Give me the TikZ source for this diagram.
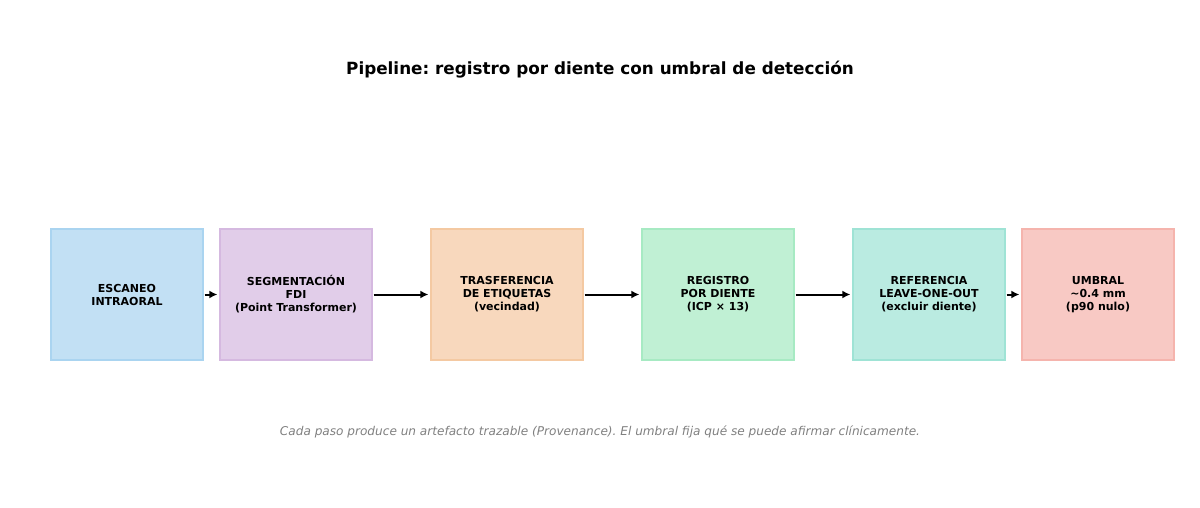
\documentclass[tikz,border=0pt]{standalone}
\usepackage{fontspec}
\setmainfont{DejaVu Sans}
\usepackage{tikz}
\usetikzlibrary{positioning,arrows.meta}
\definecolor{cblue}{HTML}{3498DB}
\definecolor{cpurple}{HTML}{9B59B6}
\definecolor{corange}{HTML}{E67E22}
\definecolor{cgreen}{HTML}{2ECC71}
\definecolor{cteal}{HTML}{1ABC9C}
\definecolor{cred}{HTML}{E74C3C}
\frenchspacing
\tikzset{
  stage/.style={draw=#1!42, fill=#1!30, line width=1.3pt, minimum width=152pt,
    minimum height=131pt, align=center, font=\fontsize{11}{13}\selectfont\bfseries},
  flow/.style={-{Latex[length=8pt,width=8pt]}, line width=2pt, shorten <=1pt, shorten >=2pt}
}

\begin{document}
\begin{tikzpicture}[x=1pt, y=-1pt]
  \useasboundingbox (0,0) rectangle (1200,508);
  \node[font=\fontsize{16.8}{20}\selectfont\bfseries] (title) at (600,69.5) {Pipeline: registro por diente con umbral de detección};
  \node[stage=cblue] (Scan) at (127,294.5) {ESCANEO\\INTRAORAL};
  \node[on grid, right=169pt of Scan, stage=cpurple] (Seg) {SEGMENTACIÓN\\FDI\\(Point Transformer)};
  \node[on grid, right=211pt of Seg, stage=corange] (Trans) {TRASFERENCIA\\DE ETIQUETAS\\(vecindad)};
  \node[on grid, right=211pt of Trans, stage=cgreen] (Reg) {REGISTRO\\POR DIENTE\\(ICP × 13)};
  \node[on grid, right=211pt of Reg, stage=cteal] (Ref) {REFERENCIA\\LEAVE-ONE-OUT\\(excluir diente)};
  \node[on grid, right=169pt of Ref, stage=cred] (Thr) {UMBRAL\\\textasciitilde0.4 mm\\(p90 nulo)};
  \draw[flow] (Scan) -- (Seg);
  \draw[flow] (Seg) -- (Trans);
  \draw[flow] (Trans) -- (Reg);
  \draw[flow] (Reg) -- (Ref);
  \draw[flow] (Ref) -- (Thr);
  \node[font=\fontsize{12.1}{14}\selectfont\itshape, text=black!50] (note) at (600,431.5) {Cada paso produce un artefacto trazable (Provenance). El umbral fija qué se puede afirmar clínicamente.};
\end{tikzpicture}
\end{document}
